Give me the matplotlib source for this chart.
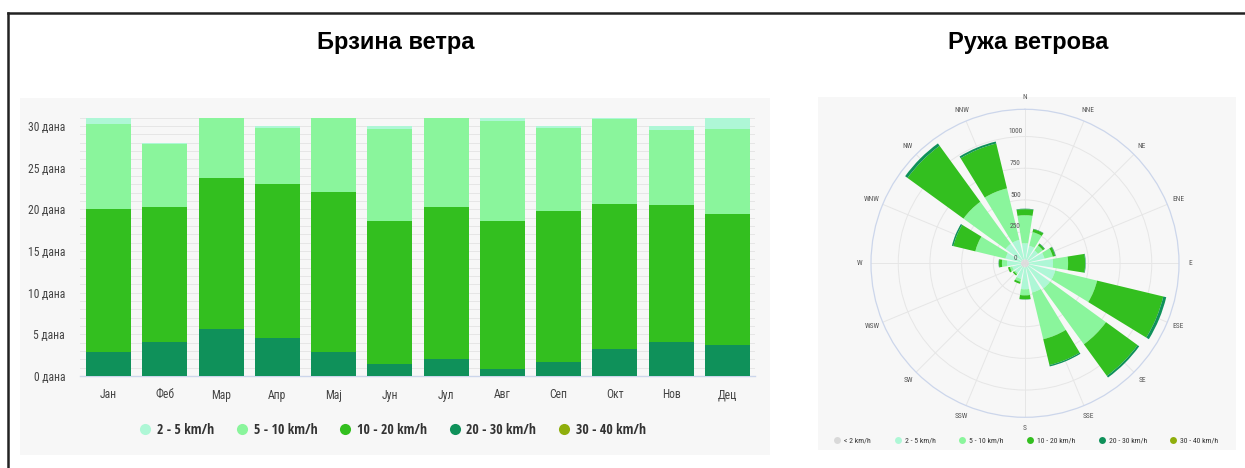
import numpy as np
import matplotlib
matplotlib.use("Agg")
import matplotlib.pyplot as plt
from matplotlib import font_manager as fm
from matplotlib.patches import Rectangle
from matplotlib.lines import Line2D
import matplotlib.transforms as mtransforms

# ---------------- data ----------------
months = ["Јан", "Феб", "Мар", "Апр", "Мај", "Јун", "Јул", "Авг", "Сеп", "Окт", "Нов", "Дец"]
days_2_5   = [0.7, 0.1, 0.0, 0.2, 0.0, 0.3, 0.0, 0.4, 0.2, 0.2, 0.5, 1.3]
days_5_10  = [10.3, 7.6, 7.2, 6.7, 8.9, 11.1, 10.7, 12.0, 10.0, 10.2, 9.0, 10.3]
days_10_20 = [17.1, 16.2, 18.2, 18.5, 19.2, 17.1, 18.3, 17.7, 18.1, 17.4, 16.4, 15.7]
days_20_30 = [2.9, 4.1, 5.6, 4.6, 2.9, 1.5, 2.0, 0.9, 1.7, 3.2, 4.1, 3.7]
days_30_40 = [0, 0, 0, 0, 0, 0, 0, 0, 0, 0, 0, 0]
bar_labels = ["2 - 5 km/h", "5 - 10 km/h", "10 - 20 km/h", "20 - 30 km/h", "30 - 40 km/h"]
y_ticks = [0, 5, 10, 15, 20, 25, 30]

directions = ["N", "NNE", "NE", "ENE", "E", "ESE", "SE", "SSE",
              "S", "SSW", "SW", "WSW", "W", "WNW", "NW", "NNW"]
rose_lt2   = [32, 32, 32, 32, 32, 32, 32, 32, 32, 32, 32, 32, 32, 32, 32, 32]
rose_2_5   = [126, 110, 94, 126, 189, 213, 213, 205, 173, 94, 63, 71, 110, 126, 158, 158]
rose_5_10  = [221, 111, 48, 67, 119, 340, 545, 379, 48, 24, 12, 19, 40, 245, 410, 418]
rose_10_20 = [48, 24, 16, 20, 134, 537, 308, 210, 31, 16, 12, 16, 23, 178, 546, 364]
rose_20_30 = [4, 3, 4, 4, 4, 24, 16, 11, 2, 0, 0, 0, 3, 12, 23, 16]
rose_30_40 = [0, 0, 0, 0, 0, 0, 0, 0, 0, 0, 0, 0, 0, 0, 0, 0]
rose_labels = ["< 2 km/h", "2 - 5 km/h", "5 - 10 km/h", "10 - 20 km/h", "20 - 30 km/h", "30 - 40 km/h"]
rose_ticks = [0, 250, 500, 750, 1000]

# ---------------- style ----------------
C_LT2 = "#d9d9d9"
C_2_5 = "#aef7d6"
C_5_10 = "#8af59c"
C_10_20 = "#33bf1f"
C_20_30 = "#0f915a"
C_30_40 = "#8fae0c"

names = {f.name for f in fm.fontManager.ttflist}
TITLE_FONT = "Liberation Sans" if "Liberation Sans" in names else "DejaVu Sans"


def _weight(f):
    w = f.weight
    if isinstance(w, (int, float)):
        return w
    return {"bold": 700, "semibold": 600, "demibold": 600, "medium": 500,
            "light": 300, "normal": 400, "regular": 400, "book": 400}.get(str(w).lower(), 400)


def _is_condensed(f):
    st = f.stretch
    if isinstance(st, str) and "condensed" in st.lower():
        return True
    if isinstance(st, (int, float)) and st < 500:
        return True
    tag = (f.name + " " + f.fname).lower()
    return "condensed" in tag or "narrow" in tag


def find_condensed(bold=False):
    cands = []
    for f in fm.fontManager.ttflist:
        if not _is_condensed(f) or f.style != "normal":
            continue
        w = _weight(f)
        if bold and w < 600:
            continue
        if not bold and not (350 <= w <= 500):
            continue
        cands.append(f)
    prefs = ["Open Sans", "Roboto", "Liberation Sans", "Noto Sans", "DejaVu Sans"]
    for p in prefs:
        for f in cands:
            if p.lower().replace(" ", "") in (f.name + f.fname).lower().replace(" ", ""):
                return f.fname
    return cands[0].fname if cands else None


COND_REG = find_condensed(False)
COND_BOLD = find_condensed(True)


def fp(size, bold=False):
    path = COND_BOLD if bold else COND_REG
    if path:
        return fm.FontProperties(fname=path, size=size)
    return fm.FontProperties(family="DejaVu Sans", size=size * 0.9,
                             weight="bold" if bold else "normal")


W, H = 1245, 468
fig = plt.figure(figsize=(W / 100, H / 100), dpi=100)
fig.patch.set_facecolor("white")


def fx(px):
    return px / W


def fy(py):
    return 1 - py / H


# frame lines
fig.add_artist(Line2D([fx(8), 1.0], [fy(13), fy(13)], color="#222222", lw=1.8))
fig.add_artist(Line2D([fx(8), fx(8)], [fy(13), 0.0], color="#222222", lw=1.8))

# panel backgrounds
fig.add_artist(Rectangle((fx(20), fy(455)), fx(750), (455 - 98) / H,
                         facecolor="#f7f7f7", edgecolor="none", zorder=0))
fig.add_artist(Rectangle((fx(818), fy(450)), fx(418), (450 - 97) / H,
                         facecolor="#f7f7f7", edgecolor="none", zorder=0))

# titles
fig.text(fx(396), fy(42), "Брзина ветра", ha="center", va="center",
         fontsize=17, fontweight="bold", family=TITLE_FONT)
fig.text(fx(1028), fy(42), "Ружа ветрова", ha="center", va="center",
         fontsize=17, fontweight="bold", family=TITLE_FONT)

# ---------------- bar chart ----------------
ax = fig.add_axes([fx(80.4), fy(376), fx(675), (376 - 117.7) / H])
ax.set_facecolor("none")
x = np.arange(len(months))
series = [(days_30_40, C_30_40), (days_20_30, C_20_30), (days_10_20, C_10_20),
          (days_5_10, C_5_10), (days_2_5, C_2_5)]
bottom = np.zeros(len(months))
for vals, col in series:
    vals = np.array(vals, dtype=float)
    ax.bar(x, vals, bottom=bottom, width=0.8, color=col, edgecolor="none", zorder=3)
    bottom += vals
ax.set_xlim(-0.5, len(months) - 0.5)
ax.set_ylim(0, 31)
ax.set_yticks(y_ticks)
ax.set_yticklabels([f"{v} дана" for v in y_ticks], color="#444444")
ax.set_yticks(np.arange(0, 32, 1), minor=True)
ax.grid(True, which="both", axis="y", color="#e6e6e6", lw=0.7, zorder=0)
ax.set_xticks(x)
ax.set_xticklabels(months, color="#444444")
for lbl in ax.get_yticklabels() + ax.get_xticklabels():
    lbl.set_fontproperties(fp(8.4))
ax.tick_params(axis="both", which="both", length=0)
ax.tick_params(axis="x", pad=9)
ax.tick_params(axis="y", pad=11)
for s in ["top", "right", "left"]:
    ax.spines[s].set_visible(False)
ax.spines["bottom"].set_color("#ccd6eb")
ax.spines["bottom"].set_linewidth(1)

leg_cols = [C_2_5, C_5_10, C_10_20, C_20_30, C_30_40]
handles = [Line2D([], [], marker="o", ls="none", markersize=8, markerfacecolor=c,
                  markeredgecolor="none") for c in leg_cols]
fig.legend(handles, bar_labels, loc="center", bbox_to_anchor=(fx(392), fy(430)), ncol=5,
           frameon=False, handletextpad=0.35, columnspacing=1.5, handlelength=1.0,
           prop=fp(10, bold=True), labelcolor="#333333")

# ---------------- wind rose ----------------
cx, cy, R = 1025, 263.3, 154
pax = fig.add_axes([fx(cx - R), fy(cy + R), fx(2 * R), 2 * R / H], projection="polar")
pax.set_facecolor("none")
pax.set_theta_zero_location("N")
pax.set_theta_direction(-1)
rmax = 1215
theta = np.deg2rad(np.arange(len(directions)) * 22.5)
width = np.deg2rad(22.5) * 0.8
rbottom = np.zeros(len(directions))
for vals, col in [(rose_lt2, C_LT2), (rose_2_5, C_2_5), (rose_5_10, C_5_10),
                  (rose_10_20, C_10_20), (rose_20_30, C_20_30), (rose_30_40, C_30_40)]:
    vals = np.array(vals, dtype=float)
    pax.bar(theta, vals, width=width, bottom=rbottom, color=col, edgecolor="none", zorder=3)
    rbottom += vals
pax.set_ylim(0, rmax)
pax.set_rticks(rose_ticks[1:])
pax.set_yticklabels([])
pax.set_xticks(theta)
pax.set_xticklabels([])
pax.grid(True, color="#e6e6e6", lw=0.7)
pax.spines["polar"].set_color("#ccd6eb")
pax.spines["polar"].set_linewidth(0.9)
pax.tick_params(length=0)

off = mtransforms.offset_copy(pax.transData, fig=fig, x=-7, y=1, units="points")
for t in rose_ticks:
    pax.text(0, t, str(t), transform=off, ha="center", va="bottom",
             fontproperties=fp(5.3), color="#555555", zorder=5)
for th, lab in zip(theta, directions):
    pax.text(th, rmax * 1.075, lab, ha="center", va="center",
             fontproperties=fp(5.3), color="#555555", clip_on=False)

rose_cols = [C_LT2, C_2_5, C_5_10, C_10_20, C_20_30, C_30_40]
rh = [Line2D([], [], marker="o", ls="none", markersize=5, markerfacecolor=c,
             markeredgecolor="none") for c in rose_cols]
fig.legend(rh, rose_labels, loc="center", bbox_to_anchor=(fx(1026), fy(440)), ncol=6,
           frameon=False, handletextpad=0.4, columnspacing=2.9, handlelength=1.0,
           prop=fp(5.6), labelcolor="#333333")

fig.savefig("out.png", dpi=100, facecolor="white")
